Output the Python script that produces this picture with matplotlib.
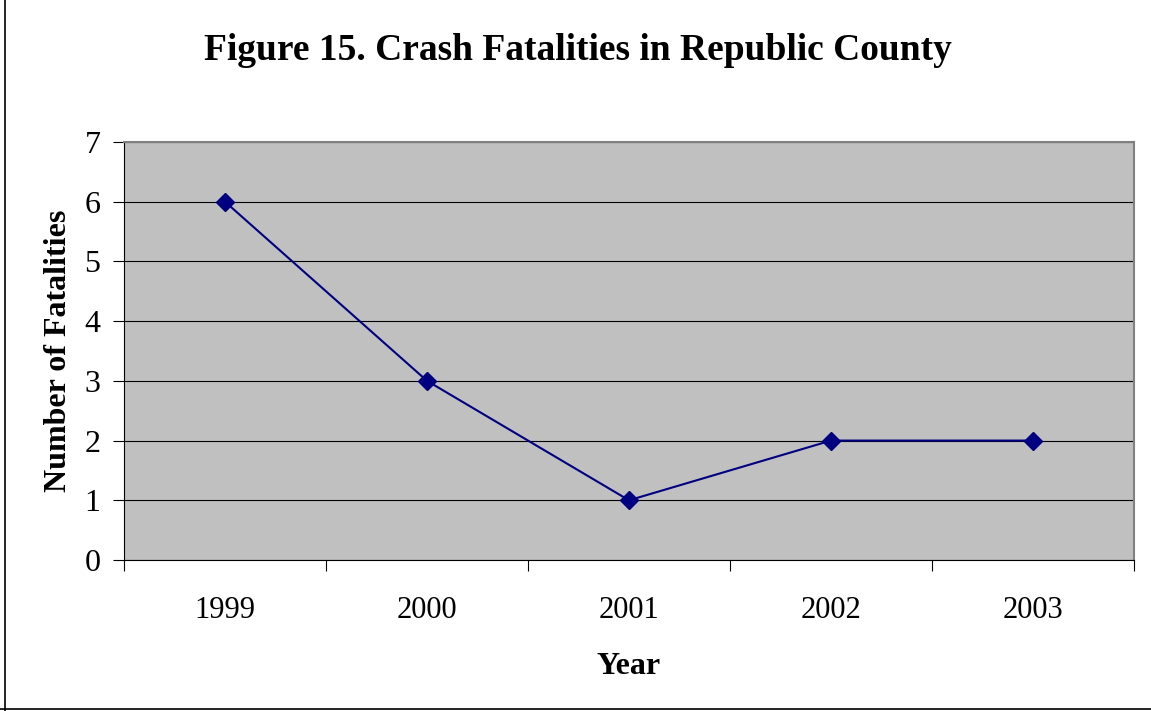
import matplotlib
matplotlib.use("Agg")
import matplotlib.pyplot as plt
from matplotlib.lines import Line2D
import numpy as np

years = ["1999", "2000", "2001", "2002", "2003"]
fatalities = [6, 3, 1, 2, 2]
yticks = [0, 1, 2, 3, 4, 5, 6, 7]

plt.rcParams['font.family'] = ['Liberation Serif', 'DejaVu Serif']

fig = plt.figure(figsize=(11.51, 7.11), dpi=100)
ax = fig.add_axes([124/1151, 1 - 560/711, (1134-124)/1151, (560-142)/711])
ax.set_facecolor('#C0C0C0')

x = np.arange(len(years))
ax.plot(x, fatalities, color='#000080', lw=1.5, marker='D', markersize=9,
        markerfacecolor='#000080', markeredgecolor='#000080', zorder=3)

ax.set_xlim(-0.5, len(years) - 0.5)
ax.set_ylim(0, 7)
ax.set_yticks(yticks)
ax.set_yticklabels([str(v) for v in yticks], fontsize=23)
ax.yaxis.grid(True, color='black', lw=0.8)
ax.set_axisbelow(True)

ax.set_xticks(np.arange(len(years) + 1) - 0.5)
ax.set_xticklabels([])
ax.set_xticks(x, minor=True)
ax.set_xticklabels(years, minor=True, fontsize=22)
ax.tick_params(axis='x', which='major', length=8, direction='out', color='black')
ax.tick_params(axis='x', which='minor', length=0, pad=26)
ax.tick_params(axis='y', length=8, direction='out', pad=9)

ax.spines['top'].set_color('#808080')
ax.spines['right'].set_color('#808080')
ax.spines['top'].set_linewidth(1.5)
ax.spines['right'].set_linewidth(1.5)
ax.spines['left'].set_color('black')
ax.spines['bottom'].set_color('black')

ax.set_xlabel('Year', fontsize=23, fontweight='bold', labelpad=19)
ax.set_ylabel('Number of Fatalities', fontsize=23, fontweight='bold', labelpad=8)

fig.text(578/1151, 1 - 50/711, 'Figure 15. Crash Fatalities in Republic County',
         ha='center', va='center', fontsize=27, fontweight='bold')

fig.add_artist(Line2D([5/1151, 5/1151], [0, 1], transform=fig.transFigure, color='black', lw=1.2))
fig.add_artist(Line2D([0, 1], [2/711, 2/711], transform=fig.transFigure, color='black', lw=1.2))

fig.savefig('out.png', dpi=100)
